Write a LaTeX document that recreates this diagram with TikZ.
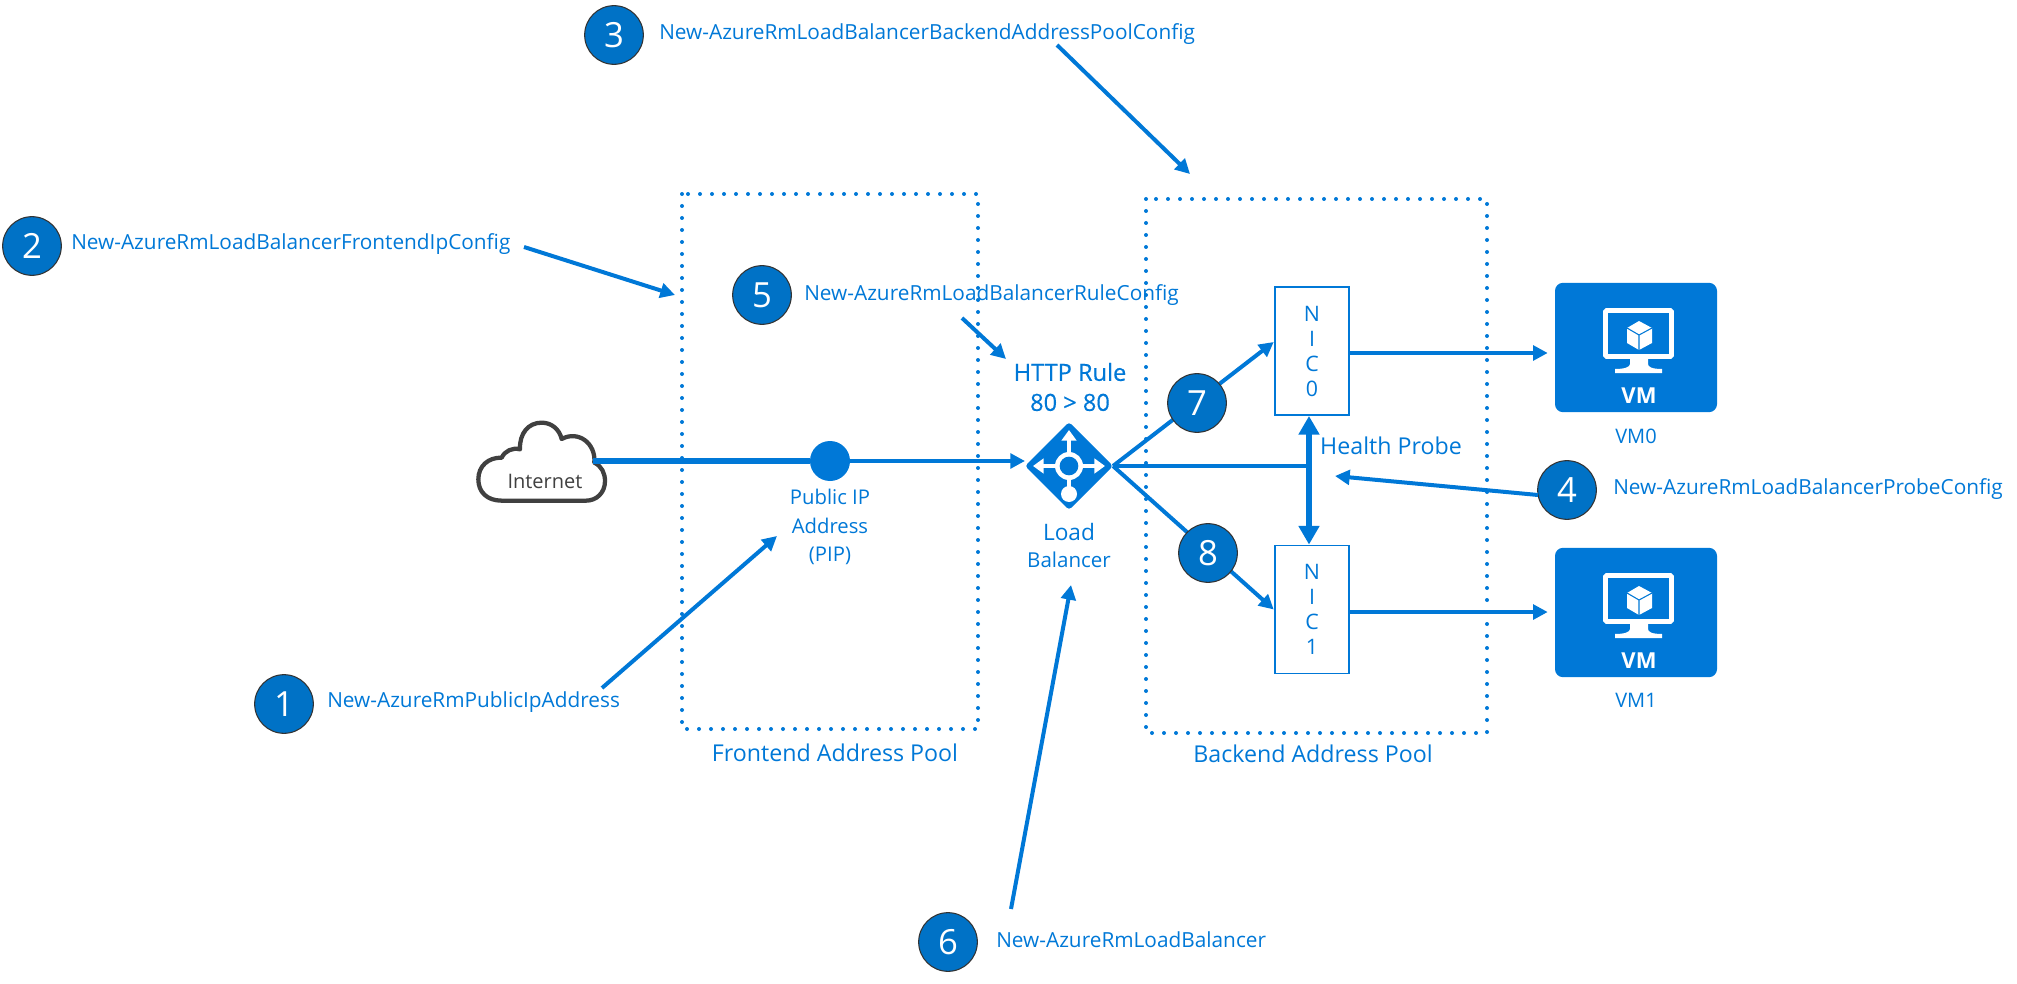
\documentclass[tikz,border=0pt]{standalone}
\usepackage{fontspec}
\setmainfont{Open Sans}
\usetikzlibrary{arrows.meta,shapes.geometric,calc}
\definecolor{az}{HTML}{0078D7}
\definecolor{azc}{HTML}{0072C6}
\definecolor{cl}{HTML}{404040}
\tikzset{
 x=.75pt,y=-.75pt,
 conn/.style={draw=az,line width=3pt,-{Triangle[length=11pt,width=11pt]}},
 wire/.style={draw=az,line width=2.8pt},
 num/.style={circle,draw=black!80,line width=.8pt,fill=azc,text=white,minimum size=44pt,inner sep=0pt,font=\fontsize{26}{28}\selectfont},
 cmd/.style={anchor=mid west,text=az,inner sep=0pt,font=\fontsize{15.6}{18}\selectfont},
 lab/.style={text=az,inner sep=0pt,align=center,font=\fontsize{17.4}{20}\selectfont},
 small/.style={text=az,inner sep=0pt,align=center,font=\fontsize{15.2}{21.5}\selectfont},
 pool/.style={draw=az,line width=3pt,dash pattern=on 0pt off 9pt,line cap=round},
 nicbox/.style={draw=az,line width=1.4pt,fill=white,minimum width=56pt,minimum height=96pt,inner sep=0pt,text=az,align=center,font=\fontsize{16}{18.75}\selectfont},
 vmbox/.style={fill=az,rounded corners=6pt,minimum width=121.5pt,minimum height=97pt,inner sep=0pt},
}
\begin{document}
\begin{tikzpicture}
\useasboundingbox (0,0) rectangle (2017,984);
% pools
\draw[pool] (682,194) rectangle (978,729);
\draw[pool] (1146,199) rectangle (1487,733);
\node[lab] (ftxt) at (835,753) {Frontend Address Pool};
\node[lab] (btxt) at (1313,754) {Backend Address Pool};
% cloud
\begin{scope}[shift={(440,380)},x=.25pt,y=-.25pt]
\draw[draw=cl,line width=3.2pt,fill=white,line join=round]
 (185,362) .. controls (140,362) and (115,335) .. (115,298)
 .. controls (115,258) and (145,232) .. (185,233)
 .. controls (195,212) and (218,202) .. (240,208)
 .. controls (238,160) and (265,128) .. (305,128)
 .. controls (335,128) and (358,148) .. (365,177)
 .. controls (415,150) and (468,190) .. (463,248)
 .. controls (485,258) and (495,280) .. (495,303)
 .. controls (495,338) and (470,362) .. (438,362) -- cycle;
\end{scope}
\node[text=cl,inner sep=0pt,font=\fontsize{15}{16}\selectfont] (inet) at (545,481) {Internet};
\coordinate (cloudr) at (593,461);
% nodes
\node[circle,fill=az,minimum size=30pt,inner sep=0pt] (pip) at (830,461) {};
\node[small] (piptxt) at (830,527) {Public IP\\Address\\(PIP)};
\node[diamond,fill=az,draw=az,line width=5pt,line join=round,minimum size=61pt,inner sep=0pt] (lb) at (1069,466) {};
\node[nicbox] (nic0) at (1312,351) {N\\I\\C\\0};
\node[nicbox] (nic1) at (1312,609.5) {N\\I\\C\\1};
\node[vmbox] (vm0) at (1636,347.5) {};
\node[vmbox] (vm1) at (1636,612.5) {};
\coordinate (hp) at (1309,467);
% lb icon
\draw[white,line width=3.4pt] (1069,466) -- (1069,494);
\fill[white] (1069,494) circle (6pt);
\draw[white,line width=3.4pt,-{Triangle[length=8pt,width=11pt]}] (1069,466) -- (1069,430);
\draw[white,line width=3.4pt,-{Triangle[length=8pt,width=11pt]}] (1069,466) -- (1033,466);
\draw[white,line width=3.4pt,-{Triangle[length=8pt,width=11pt]}] (1069,466) -- (1105,466);
\fill[white] (1069,466) circle (10.5pt);
\fill[az] (1069,466) circle (7pt);
% vm icons
\foreach \dy in {0,265}{
\begin{scope}[yshift=-\dy*.75pt]
\draw[white,line width=3.6pt,rounded corners=1pt] (1605.5,310.5) rectangle (1671.5,356.5);
\fill[white] (1630,358) -- (1648,358) -- (1648,364) .. controls (1648,367) and (1652,369) .. (1662,369) -- (1662,373) -- (1615,373) -- (1615,369) .. controls (1625,369) and (1630,367) .. (1630,364) -- cycle;
\fill[white] (1639,321) -- (1652,328) -- (1652,343) -- (1639,350) -- (1627,343) -- (1627,328) -- cycle;
\draw[az,line width=.8pt] (1627,328) -- (1639,335) -- (1652,328) (1639,335) -- (1639,350);
\end{scope}}
\node[text=white,inner sep=0pt,font=\bfseries\fontsize{16.5}{18}\selectfont] (vm0t) at (1639,396) {VM};
\node[text=white,inner sep=0pt,font=\bfseries\fontsize{16.5}{18}\selectfont] (vm1t) at (1639,661) {VM};
\node[small,font=\fontsize{15}{15}\selectfont] (vm0l) at (1636,436) {VM0};
\node[small,font=\fontsize{15}{15}\selectfont] (vm1l) at (1636,700) {VM1};
\node[lab,font=\fontsize{17.7}{22.5}\selectfont\addfontfeature{FakeBold=0.4}] (rule) at (1070,387) {HTTP Rule\\80 > 80};
\node[text=az,inner sep=0pt,font=\fontsize{17}{18}\selectfont] (load) at (1069,532) {Load};
\node[text=az,inner sep=0pt,font=\fontsize{15.4}{16}\selectfont] (bal) at (1069,560) {Balancer};
\node[lab] (health) at (1391,446) {Health Probe};
% connectors
\draw[draw=az,line width=4.5pt] (cloudr) -- (pip);
\draw[conn] (pip) -- (lb.west |- pip);
\draw[conn] (lb.east) -- ([yshift=6.75pt]nic0.west);
\draw[conn] (lb.east) -- (nic1.west);
\draw[wire] (lb.east) -- (lb.east -| hp);
\draw[draw=az,line width=3.8pt,{Triangle[length=14pt,width=15pt]}-{Triangle[length=14pt,width=15pt]}] ([xshift=-2.25pt]nic0.south) -- ([xshift=-2.25pt]nic1.north);
\draw[conn] ([yshift=-1.5pt]nic0.east) -- ([xshift=-5.25pt,yshift=-1.5pt]vm0.west |- nic0.east);
\draw[conn] ([yshift=-1.9pt]nic1.east) -- ([xshift=-5.25pt,yshift=-1.9pt]vm1.west |- nic1.east);
% annotations
\node[num] (c1) at (284,704) {1};
\node[num] (c2) at (32,246) {2};
\node[num] (c3) at (614,35) {3};
\node[num] (c4) at (1567,490) {4};
\node[num] (c5) at (762,295) {5};
\node[num] (c6) at (948,942) {6};
\node[num] (c7) at (1197,403) {7};
\node[num] (c8) at (1208,553) {8};
\node[cmd] (t1) at (327,704) {New-AzureRmPublicIpAddress};
\node[cmd] (t2) at (71,246) {New-AzureRmLoadBalancerFrontendIpConfig};
\node[cmd] (t3) at (659,36) {New-AzureRmLoadBalancerBackendAddressPoolConfig};
\node[cmd] (t4) at (1613,491) {New-AzureRmLoadBalancerProbeConfig};
\node[cmd] (t5) at (804,297) {New-AzureRmLoadBalancerRuleConfig};
\node[cmd] (t6) at (996,944) {New-AzureRmLoadBalancer};
\coordinate (a1) at (602,688); \coordinate (b1) at (777,536);
\coordinate (a2) at (524,247); \coordinate (b2) at (675,295);
\coordinate (a3) at (1057,45); \coordinate (b3) at (1190,174);
\coordinate (a4) at (1538,495); \coordinate (b4) at (1335,476);
\coordinate (a5) at (962,318); \coordinate (b5) at (1006,359);
\coordinate (a6) at (1011,909); \coordinate (b6) at (1071,585);
\draw[conn] (a1) -- (b1);
\draw[conn] (a2) -- (b2);
\draw[conn] (a3) -- (b3);
\draw[conn] (a4) -- (b4);
\draw[conn] (a5) -- (b5);
\draw[conn] (a6) -- (b6);
\end{tikzpicture}
\end{document}
